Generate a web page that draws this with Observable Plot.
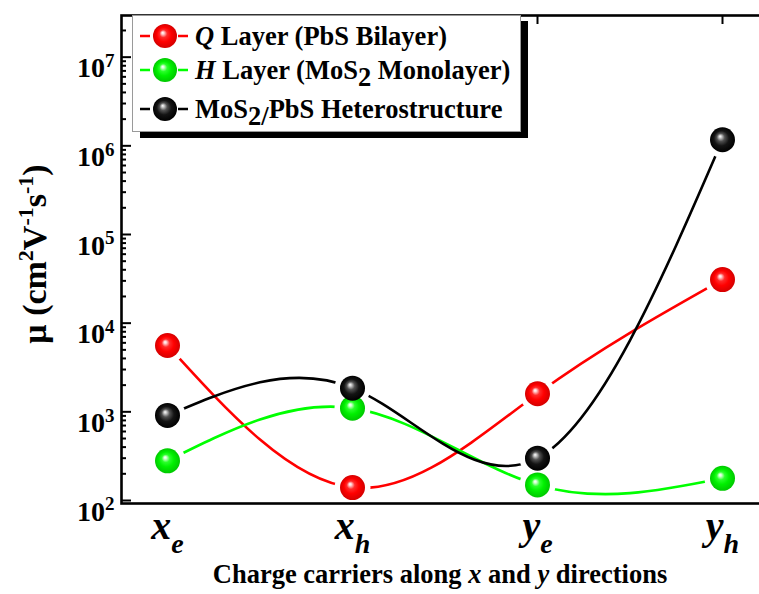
<!DOCTYPE html>
<html><head><meta charset="utf-8">
<script src="https://cdn.jsdelivr.net/npm/d3@7"></script>
<script src="https://cdn.jsdelivr.net/npm/@observablehq/plot@0.6"></script>
<style>body{margin:0;background:#fff} svg{display:block}</style>
</head><body><div id="chart"></div>
<script>
// ---- data ----
const carriers = ["xe", "xh", "ye", "yh"];
const carrierMain = ["x", "x", "y", "y"];
const carrierSub = ["e", "h", "e", "h"];
const qLayer = [5600, 140, 1600, 31000];      // Q Layer (PbS Bilayer)
const hLayer = [280, 1100, 150, 178];         // H Layer (MoS2 Monolayer)
const hetero = [910, 1850, 300, 1170000];     // MoS2/PbS Heterostructure
const seriesValues = [qLayer, hLayer, hetero];
const lineColors = ["#ff0000", "#00ff00", "#000000"];
const sphereBase = [["#ffd6d6", "#ff2a2a", "#ff0000", "#d40000"], ["#d6ffd6", "#2aff2a", "#00f000", "#00c800"], ["#d0d0d0", "#505050", "#141414", "#000000"]];
const yMajor = [1e2, 1e3, 1e4, 1e5, 1e6, 1e7];
const yMinorMult = [2, 3, 4, 5, 6, 7, 8, 9];
const yMinor = [1e2, 1e3, 1e4, 1e5, 1e6, 1e7].flatMap(d => yMinorMult.map(m => m * d)).filter(v => v < 2.9e7);
const yExp = {100: "2", 1000: "3", 10000: "4", 100000: "5", 1000000: "6", 10000000: "7"};

const rows = [];
seriesValues.forEach((vals, s) => carriers.forEach((c, i) => rows.push({series: s, carrier: c, mu: vals[i]})));

const serif = "'Liberation Serif', 'Times New Roman', serif";

const plot = Plot.plot({
  width: 759, height: 594,
  marginLeft: 121, marginRight: -9, marginTop: 15, marginBottom: 91,
  style: {background: "white", fontFamily: serif, color: "black"},
  x: {type: "point", domain: carriers, padding: 0.242, label: null},
  y: {type: "log", domain: [92.5, 2.95e7], label: null},
  marks: [
    ...[0, 1, 2].map(s => Plot.line(rows.filter(d => d.series === s), {x: "carrier", y: "mu", stroke: lineColors[s], strokeWidth: 2.6, curve: "natural"})),
    ...[0, 1, 2].map(s => Plot.dot(rows.filter(d => d.series === s), {x: "carrier", y: "mu", r: 12.5, fill: `url(#sph${s})`, stroke: "none"})),
    Plot.axisY({ticks: yMinor, tickSize: -5, strokeWidth: 2, tickFormat: () => "", label: null}),
    Plot.axisY({ticks: yMajor, tickSize: -10, strokeWidth: 2, tickPadding: 17, tickFormat: d => "10^" + yExp[d], fontSize: 28, fontWeight: "bold", fontFamily: serif, label: null}),
    Plot.axisX({anchor: "top", tickSize: -8, strokeWidth: 2, tickFormat: () => "", label: null}),
    Plot.axisX({anchor: "bottom", tickSize: 0, tickPadding: 7, tickFormat: d => carrierMain[carriers.indexOf(d)] + "_" + carrierSub[carriers.indexOf(d)], fontSize: 40, fontWeight: "bold", fontStyle: "italic", fontFamily: serif, label: null}),
    Plot.frame({stroke: "black", strokeWidth: 2.6})
  ]
});
document.getElementById("chart").appendChild(plot);

const svg = d3.select(plot);
const xs = plot.scale("x"), ys = plot.scale("y");

// gradients + masks
const defs = svg.insert("defs", ":first-child");
sphereBase.forEach((st, s) => {
  const g = defs.append("radialGradient").attr("id", `sph${s}`).attr("cx", 0.5).attr("cy", 0.5).attr("r", 0.5).attr("fx", 0.4).attr("fy", 0.36);
  [[0, "#ffffff"], [0.1, st[0]], [0.32, st[1]], [0.6, st[2]], [1, st[3]]].forEach(([o, c]) => g.append("stop").attr("offset", o).attr("stop-color", c));
});
seriesValues.forEach((vals, s) => {
  const m = defs.append("mask").attr("id", `gap${s}`).attr("maskUnits", "userSpaceOnUse").attr("x", -50).attr("y", -50).attr("width", 900).attr("height", 700);
  m.append("rect").attr("x", -50).attr("y", -50).attr("width", 900).attr("height", 700).attr("fill", "white");
  carriers.forEach((c, i) => m.append("circle").attr("cx", xs.apply(c)).attr("cy", ys.apply(vals[i])).attr("r", 18).attr("fill", "black"));
});
svg.selectAll('g[aria-label="line"]').each(function(_, i) { d3.select(this).attr("mask", `url(#gap${i})`); });

// y tick labels with superscripts
svg.selectAll('g[aria-label="y-axis tick label"] text').each(function() {
  const t = d3.select(this); const s = t.text(); if (!s.includes("^")) return;
  const [b, e] = s.split("^");
  t.text(null).attr("dy", "0.4em");
  t.append("tspan").text(b);
  t.append("tspan").attr("dy", "-0.55em").attr("font-size", "19px").text(e);
});
// x tick labels with subscripts
svg.selectAll('g[aria-label="x-axis tick label"] text').each(function() {
  const t = d3.select(this); const s = t.text(); if (!s.includes("_")) return;
  const [b, e] = s.split("_");
  t.text(null);
  t.append("tspan").text(b);
  t.append("tspan").attr("dy", "14").attr("font-size", "28px").text(e);
});

// axis titles
const yt = svg.append("text").attr("transform", "translate(46,254) rotate(-90)").attr("text-anchor", "middle")
  .attr("font-family", serif).attr("font-weight", "bold").attr("font-size", 34);
[["μ (cm", 0], ["2", 1], ["V", 0], ["-1", 1], ["s", 0], ["-1", 1], [")", 0]].forEach(([txt, sup], i, arr) => {
  const prevSup = i > 0 && arr[i - 1][1];
  const sp = yt.append("tspan").text(txt);
  if (sup) sp.attr("dy", -13).attr("font-size", 22);
  else if (prevSup) sp.attr("dy", 13);
});
const xt = svg.append("text").attr("x", 440).attr("y", 583).attr("text-anchor", "middle")
  .attr("font-family", serif).attr("font-weight", "bold").attr("font-size", 26.5);
xt.append("tspan").text("Charge carriers along ");
xt.append("tspan").attr("font-style", "italic").text("x");
xt.append("tspan").text(" and ");
xt.append("tspan").attr("font-style", "italic").text("y");
xt.append("tspan").text(" directions");

// legend
const lg = svg.append("g").attr("text-anchor", "start");
lg.append("rect").attr("x", 140).attr("y", 21).attr("width", 388).attr("height", 117).attr("fill", "black");
lg.append("rect").attr("x", 132.5).attr("y", 15.5).attr("width", 388).attr("height", 116).attr("fill", "white").attr("stroke", "#9a9a9a").attr("stroke-width", 1);
const rowsY = [36, 70, 109];
const baseY = [45, 79, 118];
rowsY.forEach((yy, s) => {
  lg.append("line").attr("x1", 140).attr("x2", 188).attr("y1", yy).attr("y2", yy).attr("stroke", lineColors[s]).attr("stroke-width", 2.6).attr("stroke-dasharray", "10 28 10");
  lg.append("circle").attr("cx", 165).attr("cy", yy).attr("r", 12).attr("fill", `url(#sph${s})`);
});
const legendParts = [
  [["Q", "i"], [" Layer (PbS Bilayer)", ""]],
  [["H", "i"], [" Layer (MoS", ""], ["2", "sub"], [" Monolayer)", "back"]],
  [["MoS", ""], ["2/", "sub"], ["PbS Heterostructure", "back"]]
];
legendParts.forEach((parts, s) => {
  const t = lg.append("text").attr("x", 195).attr("y", baseY[s]).attr("text-anchor", "start").attr("font-family", serif).attr("font-weight", "bold").attr("font-size", 26.5);
  parts.forEach(([txt, kind]) => {
    const sp = t.append("tspan").text(txt);
    if (kind === "i") sp.attr("font-style", "italic");
    if (kind === "sub") sp.attr("dy", 7);
    if (kind === "back") sp.attr("dy", -7);
  });
});
</script>
</body></html>
